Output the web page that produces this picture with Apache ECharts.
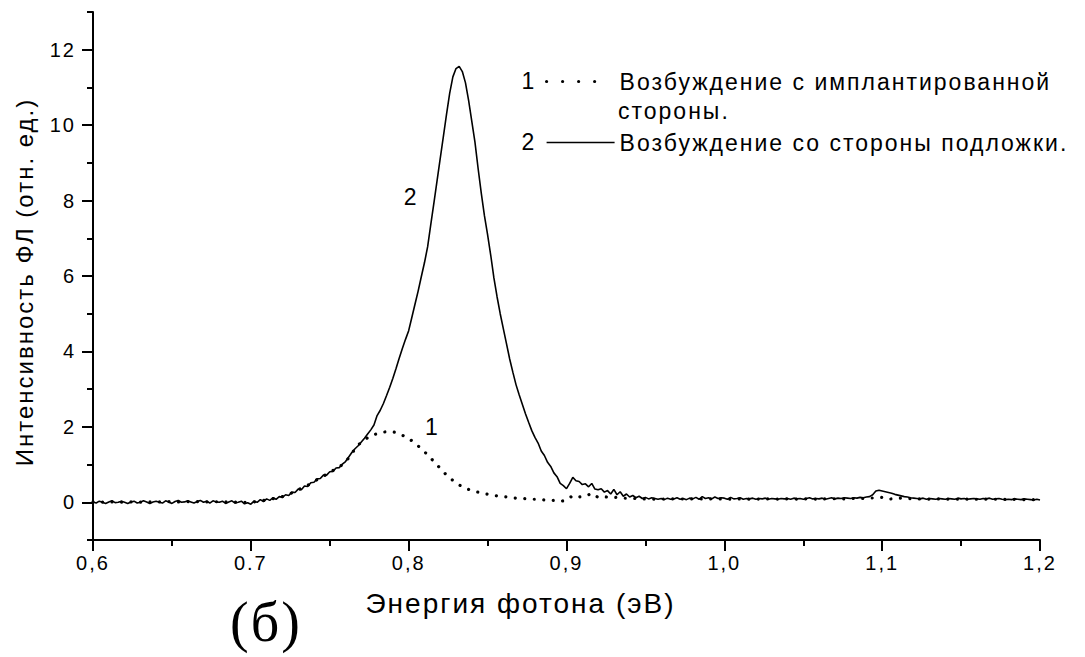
<!DOCTYPE html>
<html>
<head>
<meta charset="utf-8">
<script src="https://cdn.jsdelivr.net/npm/echarts@6/dist/echarts.min.js"></script>
<style>
  html, body { margin: 0; padding: 0; background: #fff; }
  #chart { width: 1085px; height: 657px; letter-spacing: 2px; }
</style>
</head>
<body>
<div id="chart"></div>
<script>
// Spectral grid of the two photoluminescence spectra (photon energy, eV)
const energyStart = 0.6;
const substrateStep = 0.002;
const implantedStep = 0.004;

// Curve 2: excitation from the substrate side (0.600 ... 1.200 eV, step 0.002)
const intensitySubstrate = [
  0.01,-0.02,0.03,0.00,-0.03,0.01,0.04,-0.01,0.00,0.03,
  0.00,-0.03,0.01,0.03,-0.02,0.00,0.04,0.01,-0.03,0.01,
  0.03,0.00,-0.02,0.04,0.01,-0.03,0.02,0.05,0.00,0.01,
  0.04,0.01,-0.02,0.02,0.05,0.00,0.03,-0.02,0.04,0.01,
  0.00,0.03,-0.03,0.01,0.04,-0.02,0.00,0.03,-0.04,-0.01,
  -0.05,0.03,0.00,0.07,0.02,0.09,0.05,0.12,0.08,0.15,
  0.13,0.20,0.18,0.27,0.26,0.35,0.33,0.43,0.42,0.52,
  0.53,0.62,0.63,0.72,0.72,0.81,0.82,0.91,0.92,1.01,
  1.08,1.20,1.32,1.42,1.50,1.60,1.70,1.81,1.92,2.05,
  2.30,2.44,2.62,2.83,3.05,3.29,3.55,3.82,4.08,4.32,
  4.55,4.90,5.25,5.60,5.98,6.35,6.77,7.36,7.94,8.53,
  9.12,9.70,10.29,10.85,11.28,11.50,11.56,11.42,11.12,10.65,
  10.10,9.55,8.85,8.20,7.60,7.10,6.55,5.95,5.45,5.00,
  4.60,4.20,3.80,3.45,3.12,2.85,2.60,2.35,2.12,1.90,
  1.72,1.57,1.36,1.24,1.06,0.95,0.78,0.68,0.50,0.44,
  0.36,0.50,0.66,0.57,0.55,0.47,0.49,0.41,0.50,0.35,
  0.33,0.36,0.27,0.31,0.22,0.34,0.20,0.28,0.16,0.22,
  0.14,0.18,0.12,0.16,0.10,0.13,0.09,0.12,0.10,0.08,
  0.10,0.07,0.11,0.08,0.09,0.12,0.08,0.10,0.07,0.11,
  0.09,0.13,0.08,0.15,0.10,0.12,0.09,0.14,0.10,0.12,
  0.11,0.08,0.13,0.09,0.10,0.12,0.08,0.10,0.09,0.11,
  0.08,0.10,0.09,0.11,0.08,0.10,0.09,0.08,0.10,0.09,
  0.10,0.08,0.11,0.09,0.10,0.08,0.10,0.12,0.09,0.10,
  0.09,0.11,0.08,0.10,0.12,0.09,0.11,0.10,0.12,0.11,
  0.10,0.12,0.11,0.13,0.12,0.14,0.15,0.20,0.30,0.32,
  0.30,0.28,0.26,0.24,0.21,0.19,0.17,0.15,0.14,0.12,
  0.11,0.10,0.09,0.11,0.08,0.10,0.09,0.08,0.10,0.09,
  0.08,0.10,0.09,0.08,0.11,0.09,0.10,0.08,0.09,0.10,
  0.09,0.08,0.10,0.09,0.11,0.08,0.09,0.10,0.08,0.07,
  0.08,0.07,0.09,0.08,0.07,0.09,0.08,0.07,0.06,0.08,
  0.06
];

// Curve 1: excitation from the implanted side (0.600 ... 1.200 eV, step 0.004)
const intensityImplanted = [
  0.01,0.01,0.00,0.01,0.01,0.00,0.01,0.01,0.00,0.01,
  0.01,0.01,0.02,0.01,0.01,0.02,0.01,0.02,0.01,0.02,
  0.01,0.01,0.01,0.00,0.00,0.00,0.02,0.05,0.08,0.11,
  0.15,0.21,0.29,0.37,0.45,0.55,0.65,0.74,0.84,0.94,
  1.06,1.30,1.52,1.66,1.76,1.82,1.86,1.88,1.85,1.78,
  1.69,1.57,1.42,1.26,1.08,0.90,0.72,0.58,0.46,0.37,
  0.31,0.27,0.23,0.20,0.17,0.15,0.13,0.11,0.10,0.09,
  0.08,0.07,0.06,0.05,0.02,0.06,0.18,0.14,0.16,0.24,
  0.13,0.15,0.12,0.13,0.11,0.10,0.10,0.09,0.09,0.08,
  0.09,0.08,0.09,0.09,0.08,0.09,0.09,0.08,0.09,0.09,
  0.09,0.08,0.09,0.09,0.08,0.09,0.08,0.09,0.09,0.08,
  0.09,0.09,0.08,0.09,0.09,0.08,0.09,0.09,0.10,0.09,
  0.10,0.10,0.10,0.11,0.12,0.13,0.08,0.10,0.11,0.10,
  0.09,0.09,0.08,0.09,0.09,0.08,0.09,0.08,0.09,0.08,
  0.08,0.08,0.09,0.08,0.08,0.07,0.08,0.07,0.07,0.07,
  0.06
];

// Axis ticks and their printed labels
const xTickValues = [0.6, 0.7, 0.8, 0.9, 1.0, 1.1, 1.2];
const xTickLabels = ['0,6', '0.7', '0,8', '0,9', '1,0', '1,1', '1,2'];
const xMinorTicks = [0.65, 0.75, 0.85, 0.95, 1.05, 1.15];
const yTickValues = [0, 2, 4, 6, 8, 10, 12];
const yMinorTicks = [-1, 1, 3, 5, 7, 9, 11, 13];

const seriesNames = ['Возбуждение с имплантированной', 'Возбуждение со стороны подложки.'];
const seriesNumbers = ['1', '2'];

const toPairs = (values, step) =>
  values.map((v, i) => [+(energyStart + i * step).toFixed(4), v]);

const black = '#000';
const sans = '"Liberation Sans", Arial, sans-serif';

const chart = echarts.init(document.getElementById('chart'), null, { renderer: 'svg' });

const tickStyle = { color: black, width: 2 };

chart.setOption({
  animation: false,
  backgroundColor: '#fff',
  textStyle: { fontFamily: sans, color: black },
  grid: { left: 93, right: 45, top: 12, bottom: 117, containLabel: false },
  legend: {
    orient: 'vertical',
    left: 545,
    top: 70,
    padding: 0,
    itemWidth: 68,
    itemHeight: 20,
    itemGap: 38,
    selectedMode: false,
    textStyle: { fontSize: 23, color: black, fontFamily: sans, lineHeight: 20 },
    itemStyle: { opacity: 0 },
    data: [
      { name: seriesNames[0], lineStyle: { type: [0.01, 16, 0.01, 16, 0.01, 16, 0.01, 60], cap: 'round', width: 3.2, color: black } },
      { name: seriesNames[1], lineStyle: { type: 'solid', width: 1.6, color: black } }
    ]
  },
  xAxis: [
    {
      type: 'value', min: 0.6, max: 1.2, position: 'bottom',
      axisLine: { onZero: false, lineStyle: { color: black, width: 2 } },
      axisTick: { customValues: xTickValues, length: 11, lineStyle: tickStyle },
      axisLabel: {
        customValues: xTickValues, margin: 13, fontSize: 20, color: black, fontFamily: sans,
        formatter: v => xTickLabels[Math.round((v - 0.6) * 10)]
      },
      splitLine: { show: false },
      name: 'Энергия фотона (эВ)', nameLocation: 'middle', nameGap: 49,
      nameTextStyle: { fontSize: 28, color: black, fontFamily: sans, padding: [0, 92, 0, 0] }
    },
    {
      type: 'value', min: 0.6, max: 1.2, position: 'bottom',
      axisLine: { show: false, onZero: false },
      axisTick: { customValues: xMinorTicks, length: 6, lineStyle: tickStyle },
      axisLabel: { show: false },
      splitLine: { show: false }
    }
  ],
  yAxis: [
    {
      type: 'value', min: -1, max: 13, position: 'left',
      axisLine: { show: true, onZero: false, lineStyle: { color: black, width: 2 } },
      axisTick: { show: true, customValues: yTickValues, length: 11, lineStyle: tickStyle },
      axisLabel: { customValues: yTickValues, margin: 17, fontSize: 20, color: black, fontFamily: sans },
      splitLine: { show: false },
      name: 'Интенсивность ФЛ (отн. ед.)', nameLocation: 'middle', nameGap: 57,
      nameTextStyle: { fontSize: 24, color: black, fontFamily: sans, padding: [0, 12, 0, 0] }
    },
    {
      type: 'value', min: -1, max: 13, position: 'left',
      axisLine: { show: false, onZero: false },
      axisTick: { show: true, customValues: yMinorTicks, length: 6, lineStyle: tickStyle },
      axisLabel: { show: false },
      splitLine: { show: false }
    }
  ],
  series: [
    {
      name: seriesNames[0], type: 'line', xAxisIndex: 0, yAxisIndex: 0,
      data: toPairs(intensityImplanted, implantedStep),
      symbol: 'none', showSymbol: false, smooth: false, z: 2,
      lineStyle: { color: black, width: 3.2, type: [0.01, 9.5], cap: 'round' },
      markPoint: {
        symbol: 'circle', symbolSize: 1, itemStyle: { color: 'rgba(0,0,0,0)' },
        label: { show: true, position: 'inside', formatter: seriesNumbers[0], fontSize: 23, color: black, fontFamily: sans },
        data: [{ coord: [0.815, 1.99] }]
      }
    },
    {
      name: seriesNames[1], type: 'line', xAxisIndex: 0, yAxisIndex: 0,
      data: toPairs(intensitySubstrate, substrateStep),
      symbol: 'none', showSymbol: false, smooth: false, z: 3,
      lineStyle: { color: black, width: 1.6, type: 'solid' },
      markPoint: {
        symbol: 'circle', symbolSize: 1, itemStyle: { color: 'rgba(0,0,0,0)' },
        label: { show: true, position: 'inside', formatter: seriesNumbers[1], fontSize: 23, color: black, fontFamily: sans },
        data: [{ coord: [0.8015, 8.09] }]
      }
    }
  ],
  graphic: [
    { type: 'text', x: 529, y: 81, style: { text: seriesNumbers[0], fontSize: 23, fontFamily: sans, fill: black, align: 'center', verticalAlign: 'middle' } },
    { type: 'text', x: 529, y: 142, style: { text: seriesNumbers[1], fontSize: 23, fontFamily: sans, fill: black, align: 'center', verticalAlign: 'middle' } },
    { type: 'text', x: 618, y: 111, style: { text: 'стороны.', fontSize: 23, fontFamily: sans, fill: black, align: 'left', verticalAlign: 'middle' } },
    { type: 'text', x: 266, y: 622, style: { text: '(б)', fontSize: 56, fontFamily: '"Liberation Serif", "Times New Roman", serif', fill: black, align: 'center', verticalAlign: 'middle' } }
  ]
});
</script>
</body>
</html>
